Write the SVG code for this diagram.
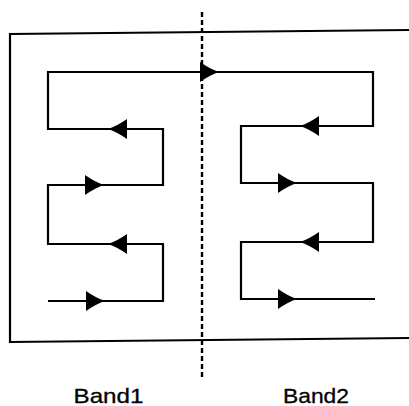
<svg xmlns="http://www.w3.org/2000/svg" xmlns:xlink="http://www.w3.org/1999/xlink" width="409" height="406" viewBox="0 0 409 406">
<style>
.ln{fill:none;stroke:#000;stroke-width:2.2;stroke-linejoin:miter}
.dash{fill:none;stroke:#000;stroke-width:2.4;stroke-dasharray:5,3}
.lbl{font-family:"Liberation Sans",Arial,sans-serif;font-size:21px;fill:#000;text-anchor:middle;stroke:#000;stroke-width:0.3}
</style>
<defs>
<path id="ah" d="M0,0 Q-9,-3 -19,-10 L-19,10 Q-9,3 0,0 Z" fill="#000"/>
</defs>
<rect width="409" height="406" fill="#fff"/>
<g id="frame">
<path class="ln" d="M409,30 L10,34 L10,342 L409,338"/>
</g>
<g id="divider">
<line class="dash" x1="202" y1="12" x2="202" y2="380"/>
</g>
<g id="connectors">
<path class="ln" d="M48,301 L163,301 L163,244 L48,244 L48,185 L163,185 L163,129 L48,129 L48,72 L373,72 L373,126 L241,126 L241,183 L373,183 L373,242 L241,242 L241,299 L375,299"/>
<use xlink:href="#ah" transform="translate(105,301)"/>
<use xlink:href="#ah" transform="translate(108,244) rotate(180)"/>
<use xlink:href="#ah" transform="translate(104,185)"/>
<use xlink:href="#ah" transform="translate(108,129) rotate(180)"/>
<use xlink:href="#ah" transform="translate(219,72)"/>
<use xlink:href="#ah" transform="translate(300,126) rotate(180)"/>
<use xlink:href="#ah" transform="translate(297,183)"/>
<use xlink:href="#ah" transform="translate(300,242) rotate(180)"/>
<use xlink:href="#ah" transform="translate(297,299)"/>
</g>
<g id="band1">
<text class="lbl" x="108.5" y="403" textLength="70" lengthAdjust="spacingAndGlyphs">Band1</text>
</g>
<g id="band2">
<text class="lbl" x="316" y="403" textLength="66" lengthAdjust="spacingAndGlyphs">Band2</text>
</g>
</svg>
